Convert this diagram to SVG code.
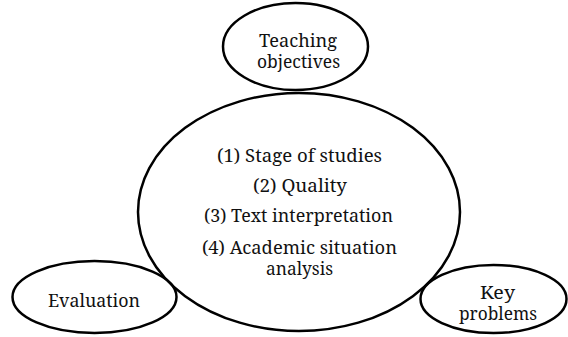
<svg xmlns="http://www.w3.org/2000/svg" width="568" height="337" viewBox="0 0 568 337">
<style>
.n{fill:none;stroke:#000;stroke-width:2.5}
.t{font-family:"Noto Serif","DejaVu Serif",serif;font-size:18.5px;fill:#111;text-anchor:middle}
</style>
<rect width="568" height="337" fill="#fff"/>
<g id="connectors"></g>
<g id="center">
<ellipse class="n" cx="299" cy="212" rx="161" ry="119"/>
<text class="t" x="299.5" y="162" textLength="165" lengthAdjust="spacingAndGlyphs">(1) Stage of studies</text>
<text class="t" x="300" y="192" textLength="94" lengthAdjust="spacingAndGlyphs">(2) Quality</text>
<text class="t" x="298.5" y="222" textLength="189" lengthAdjust="spacingAndGlyphs">(3) Text interpretation</text>
<text class="t" x="299.5" y="254" textLength="195" lengthAdjust="spacingAndGlyphs">(4) Academic situation</text>
<text class="t" x="299.5" y="275" textLength="67" lengthAdjust="spacingAndGlyphs">analysis</text>
</g>
<g id="objectives">
<ellipse class="n" cx="295.5" cy="46.5" rx="72.5" ry="43.5"/>
<text class="t" x="298" y="47" textLength="78" lengthAdjust="spacingAndGlyphs">Teaching</text>
<text class="t" x="298.5" y="68" textLength="83" lengthAdjust="spacingAndGlyphs">objectives</text>
</g>
<g id="evaluation">
<ellipse class="n" cx="94.5" cy="297" rx="82" ry="36"/>
<text class="t" x="94" y="307" textLength="92" lengthAdjust="spacingAndGlyphs">Evaluation</text>
</g>
<g id="keyproblems">
<ellipse class="n" cx="493.5" cy="299" rx="73" ry="34"/>
<text class="t" x="497.5" y="299" textLength="35" lengthAdjust="spacingAndGlyphs">Key</text>
<text class="t" x="498" y="320" textLength="78" lengthAdjust="spacingAndGlyphs">problems</text>
</g>
</svg>
